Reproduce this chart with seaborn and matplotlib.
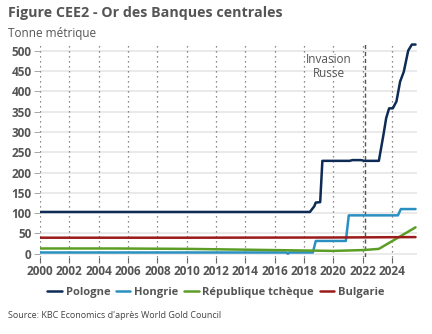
import matplotlib
matplotlib.use("Agg")
import matplotlib.pyplot as plt
import seaborn as sns
import pandas as pd
import numpy as np

# ---- data (tonnes) ----
pl_years = [2000, 2018.4, 2018.7, 2018.8, 2019.1, 2019.25, 2021.1, 2021.3, 2021.9, 2022.1,
            2023.1, 2023.4, 2023.6, 2023.8, 2024.05, 2024.3, 2024.55, 2024.8, 2025.1, 2025.35, 2025.6]
pl_vals = [102.9, 102.9, 117, 126, 127, 228.7, 228.7, 230.5, 230.5, 228.7,
           228.7, 290, 334, 358, 358, 375, 424, 448, 500, 515, 515]

hu_years = [2000, 2016.8, 2016.9, 2017.0, 2018.6, 2018.8, 2020.85, 2021.05, 2024.4, 2024.6, 2025.6]
hu_vals = [3.1, 3.1, 0, 3.1, 3.1, 31.5, 31.5, 94.5, 94.5, 110, 110]

cz_years = [2000, 2005, 2010, 2014, 2018, 2020, 2022, 2023.1, 2024.0, 2024.8, 2025.6]
cz_vals = [13, 13, 12, 10, 8, 7, 9, 12, 31, 48, 65]

bg_years = [2000, 2010, 2020, 2025.6]
bg_vals = [39.5, 39.5, 40, 41]

series = ["Pologne", "Hongrie", "République tchèque", "Bulgarie"]
colors = ["#0d2b54", "#2a8fc1", "#5c9e25", "#9b1b1b"]
xticks = list(range(2000, 2025, 2))
yticks = list(range(0, 501, 50))
invasion_year = 2022.15

frames = []
for name, yrs, vals in zip(series, [pl_years, hu_years, cz_years, bg_years],
                           [pl_vals, hu_vals, cz_vals, bg_vals]):
    frames.append(pd.DataFrame({"year": yrs, "tonnes": vals, "pays": name}))
df = pd.concat(frames, ignore_index=True)

sns.set_theme(style="white")
plt.rcParams['font.family'] = ['Open Sans', 'DejaVu Sans']
txt = "#555555"

fig = plt.figure(figsize=(4.32, 3.34), dpi=100)
ax = fig.add_axes([40/432, 1-257/334, (416.7-40)/432, (257-41.7)/334])

for y in yticks:
    ax.axhline(y, color="#e8e8e8", lw=1.3, zorder=0)
for x in xticks:
    ax.axvline(x, color="#666666", lw=0.9, ls=(0, (1, 3)), zorder=0.5)
ax.axvline(invasion_year, color="#555555", lw=1.0, ls=(0, (3, 2)), zorder=0.5)

sns.lineplot(data=df, x="year", y="tonnes", hue="pays", hue_order=series,
             palette=dict(zip(series, colors)), lw=1.8, ax=ax, estimator=None,
             sort=False, legend=True)

ax.set_xlim(2000, 2025.68)
ax.set_ylim(-8, 522)
ax.set_xticks(xticks)
ax.set_yticks(yticks)
ax.set_xlabel("")
ax.set_ylabel("")
for s in ax.spines.values():
    s.set_visible(False)
ax.tick_params(axis="x", which="both", bottom=True, length=4, width=0.8, color="#666666",
               labelsize=8.5, labelcolor=txt, pad=2)
ax.tick_params(axis="y", which="both", left=True, length=4, width=0.6, color="#999999",
               labelsize=8.5, labelcolor=txt, pad=2)
for lab in ax.get_xticklabels() + ax.get_yticklabels():
    lab.set_fontweight("bold")

ax.text(2019.7, 460, "Invasion\nRusse", ha="center", va="center", fontsize=8.5,
        color=txt, linespacing=1.1)

handles, labels = ax.get_legend_handles_labels()
ax.legend_.remove()
leg = fig.legend(handles, labels, loc="center", bbox_to_anchor=(0.5, 1-292/334), ncol=4,
                 frameon=False, handlelength=1.3, handletextpad=0.35, columnspacing=0.5,
                 prop={"weight": "bold", "size": 8})
for t in leg.get_texts():
    t.set_color(txt)

fig.text(8/432, 1-13/334, "Figure CEE2 - Or des Banques centrales", ha="left", va="center",
         fontsize=10.3, fontweight="bold", color=txt)
fig.text(8/432, 1-33/334, "Tonne métrique", ha="left", va="center", fontsize=8.5, color=txt)
fig.text(8/432, 1-316/334, "Source: KBC Economics d'après World Gold Council", ha="left",
         va="center", fontsize=6.5, color="#444444")

fig.savefig("out.png", dpi=100)
